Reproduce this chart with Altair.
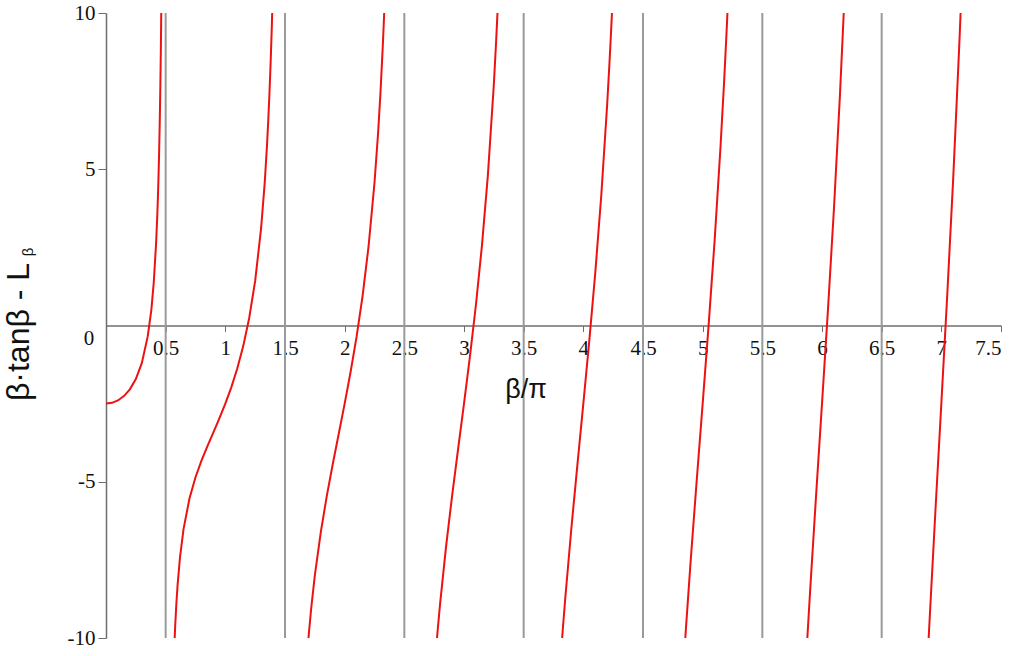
import altair as alt
import pandas as pd

# Branch curves (x = beta/pi, y = beta*tan(beta) - L_beta)
b0_x = [0, 0.05, 0.1, 0.15, 0.2, 0.25, 0.3, 0.35, 0.38, 0.4, 0.42, 0.43, 0.435, 0.44, 0.445, 0.45, 0.455, 0.46, 0.465]
b0_y = [-2.5, -2.475, -2.398, -2.260, -2.044, -1.715, -1.203, -0.342, 0.500, 1.368, 2.639, 3.543, 4.099, 4.746, 5.510, 6.426, 7.544, 8.939, 10.73]

b1_x = [0.57, 0.58, 0.59, 0.6, 0.62, 0.65, 0.7, 0.75, 0.8, 0.85, 0.9, 0.95, 1.0, 1.05, 1.1, 1.15, 1.2, 1.25, 1.3, 1.33, 1.35, 1.36, 1.37, 1.38, 1.39, 1.4]
b1_y = [-10.51, -9.597, -8.880, -8.301, -7.420, -6.508, -5.527, -4.856, -4.326, -3.861, -3.419, -2.973, -2.5, -1.978, -1.377, -0.659, 0.239, 1.427, 3.121, 4.566, 5.824, 6.580, 7.446, 8.450, 9.629, 11.036]

b2_x = [1.69, 1.7, 1.72, 1.75, 1.8, 1.85, 1.9, 1.95, 2.0, 2.05, 2.1, 2.15, 2.2, 2.25, 2.28, 2.3, 2.32, 2.33, 2.34]
b2_y = [-10.313, -9.851, -9.032, -7.998, -6.609, -5.461, -4.439, -3.470, -2.5, -1.480, -0.356, 0.941, 2.521, 4.569, 6.158, 7.445, 8.984, 9.878, 10.872]

b3_x = [2.77, 2.78, 2.8, 2.85, 2.9, 2.95, 3.0, 3.05, 3.1, 3.15, 3.2, 3.25, 3.27, 3.28, 3.29]
b3_y = [-10.172, -9.725, -8.891, -7.062, -5.460, -3.968, -2.5, -0.982, 0.664, 2.542, 4.804, 7.710, 9.152, 9.956, 10.847]

b4_x = [3.82, 3.83, 3.85, 3.9, 3.95, 4.0, 4.05, 4.1, 4.15, 4.2, 4.22, 4.23, 4.24, 4.25]
b4_y = [-10.117, -9.616, -8.663, -6.481, -4.465, -2.5, -0.485, 1.685, 4.143, 7.087, 8.468, 9.216, 10.008, 10.852]

b5_x = [4.85, 4.86, 4.9, 4.95, 5.0, 5.05, 5.1, 5.15, 5.18, 5.2, 5.21]
b5_y = [-10.263, -9.685, -7.502, -4.963, -2.5, 0.013, 2.706, 5.743, 7.828, 9.369, 10.196]

b6_x = [5.87, 5.88, 5.9, 5.95, 6.0, 6.05, 6.1, 6.15, 6.18, 6.19]
b6_y = [-10.480, -9.814, -8.523, -5.461, -2.5, 0.510, 3.727, 7.344, 9.822, 10.716]

b7_x = [6.89, 6.9, 6.95, 7.0, 7.05, 7.1, 7.15, 7.16, 7.17]
b7_y = [-10.293, -9.543, -5.958, -2.5, 1.008, 4.747, 8.945, 9.866, 10.821]

asymptotes = [0.5, 1.5, 2.5, 3.5, 4.5, 5.5, 6.5]
x_ticks = [0.5, 1, 1.5, 2, 2.5, 3, 3.5, 4, 4.5, 5, 5.5, 6, 6.5, 7, 7.5]
y_ticks = [-10, -5, 5, 10]

branches = [(b0_x, b0_y), (b1_x, b1_y), (b2_x, b2_y), (b3_x, b3_y),
            (b4_x, b4_y), (b5_x, b5_y), (b6_x, b6_y), (b7_x, b7_y)]
rows = []
for k, (xs, ys) in enumerate(branches):
    for i, (xv, yv) in enumerate(zip(xs, ys)):
        rows.append({"branch": k, "i": i, "x": xv, "y": yv})
df = pd.DataFrame(rows)

SERIF = "Liberation Serif"
SANS = "Liberation Sans"

xscale = alt.Scale(domain=[0, 7.5], nice=False, zero=False)
yscale = alt.Scale(domain=[-10, 10], nice=False)

x_axis = alt.Axis(values=x_ticks, labelExpr="toString(datum.value)", orient="bottom", offset=-312.5,
                  domainColor="#6e6e6e", domainWidth=1.5, tickColor="#6e6e6e", tickSize=6,
                  labelFont=SERIF, labelFontSize=21, labelColor="#111",
                  labelPadding=6, grid=False, title=None)
y_axis = alt.Axis(values=y_ticks, labelExpr="toString(datum.value)", orient="left",
                  domainColor="#6e6e6e", domainWidth=1.5, tickColor="#6e6e6e", tickSize=8,
                  labelFont=SERIF, labelFontSize=21, labelColor="#111",
                  labelPadding=3, grid=False, title=None)

asym = alt.Chart(pd.DataFrame({"a": asymptotes})).mark_rule(
    color="#9a9a9a", strokeWidth=2
).encode(x=alt.X("a:Q", scale=xscale, axis=x_axis))

curves = alt.Chart(df).mark_line(color="#ee1111", strokeWidth=2, clip=True).encode(
    x=alt.X("x:Q", scale=xscale, axis=x_axis),
    y=alt.Y("y:Q", scale=yscale, axis=y_axis),
    detail="branch:N",
    order="i:Q",
)

zero_lbl = alt.Chart(pd.DataFrame({"t": ["0"]})).mark_text(
    font=SERIF, fontSize=21, color="#111", align="center", baseline="middle"
).encode(x=alt.value(-17), y=alt.value(326), text="t:N")

xtitle = alt.Chart(pd.DataFrame({"t": ["β/π"]})).mark_text(
    font=SANS, fontSize=27, color="#111", align="center", baseline="middle"
).encode(x=alt.value(420), y=alt.value(377), text="t:N")

ytitle = alt.Chart(pd.DataFrame({"t": ["β·tanβ - L"]})).mark_text(
    font=SANS, fontSize=32, color="#111", align="center", baseline="middle", angle=270
).encode(x=alt.value(-87), y=alt.value(319), text="t:N")

ysub = alt.Chart(pd.DataFrame({"t": ["β"]})).mark_text(
    font=SANS, fontSize=15, color="#111", align="center", baseline="middle", angle=270
).encode(x=alt.value(-78), y=alt.value(239), text="t:N")

chart = alt.layer(asym, curves, zero_lbl, xtitle, ytitle, ysub).properties(
    width=895, height=625,
    padding={"left": 106, "top": 13, "right": 16, "bottom": 18},
    autosize=alt.AutoSizeParams(type="none"),
    background="white",
).configure_view(stroke=None)

chart.save("out.html", embed_options={"renderer": "svg", "actions": False})
